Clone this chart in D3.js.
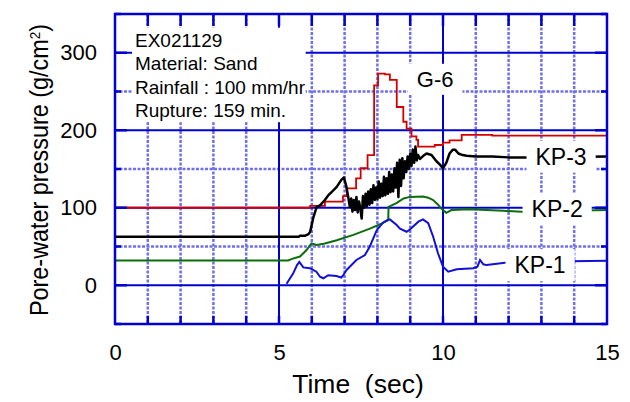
<!DOCTYPE html>
<html>
<head>
<meta charset="utf-8">
<script src="https://cdn.jsdelivr.net/npm/d3@7"></script>
<style>
  body { margin: 0; background: #fff; }
  text { font-family: "Liberation Sans", Arial, sans-serif; fill: #000; }
</style>
</head>
<body>
<div id="chart"></div>
<script>
// tick labels
var xTicks = [0, 5, 10, 15];
var yTicks = [0, 100, 200, 300];

// G-6 (red)
var g6T = [0, 5.95, 6.4, 6.95, 7.07, 7.35, 7.49, 7.7, 7.9, 8.02, 8.23, 8.38, 8.59, 8.79, 8.89, 9.04, 9.19, 9.24, 9.75, 10.0, 10.2, 10.57, 11.5, 15];
var g6V = [100, 102.5, 108, 115, 125, 138, 151, 168, 258, 273, 272, 265, 230, 211, 202, 192, 187.5, 179, 181, 184, 187, 194, 193, 192];

// KP-3 (black)
var kp3T = [0, 5.6, 5.64, 5.8, 5.9, 5.95, 6.05, 6.15, 6.25, 6.4, 6.5, 6.6, 6.76, 6.9, 6.98, 7.05, 7.11,
  7.16, 7.20, 7.24, 7.28, 7.32, 7.36, 7.40, 7.44, 7.48, 7.52, 7.56, 7.60, 7.64, 7.68, 7.72, 7.76, 7.80, 7.84,
  7.88, 7.92, 7.96, 8.00, 8.04, 8.08, 8.12, 8.16, 8.20, 8.24, 8.28, 8.32, 8.36, 8.40, 8.44, 8.48, 8.52, 8.56,
  8.60, 8.64, 8.68, 8.72, 8.76, 8.80, 8.84, 8.88, 8.92, 8.96, 9.00, 9.04, 9.08, 9.12, 9.16, 9.20, 9.24, 9.30,
  9.4, 9.5, 9.65, 9.8, 9.9, 10.0, 10.1, 10.2, 10.3, 10.37, 10.47, 10.6, 10.72, 11.0, 11.5, 12.0, 12.5, 15];
var kp3V = [62.5, 62.5, 64, 64, 66, 69, 88, 101, 103, 110, 116, 120, 127, 136, 139, 128, 114,
  101, 112, 95, 110, 97, 114, 94, 108, 99, 86, 115, 100, 118, 102, 121, 104, 124, 106,
  129, 110, 126, 111, 134, 113, 131, 115, 140, 116, 138, 118, 146, 120, 143, 121, 151, 126,
  158, 114, 162, 128, 164, 138, 160, 146, 166, 150, 170, 154, 175, 158, 179, 161, 168, 163,
  167, 170, 168, 160, 156, 151, 158, 170, 175, 175, 170, 168, 167, 166, 166, 165, 165, 166];

// KP-2 (green)
var kp2T = [0, 5.28, 5.4, 5.64, 5.84, 5.99, 6.15, 6.4, 6.76, 7.27, 7.77, 8.1, 8.33, 8.34, 8.58, 8.8, 8.99, 9.39, 9.55, 9.7, 9.85, 9.95, 10.1, 10.26, 10.82, 11.84, 12.4, 15];
var kp2V = [32, 32, 34, 37, 45.5, 54, 52, 54, 58, 65, 73, 79, 84, 101, 106, 112, 114, 114.5, 113, 110, 104, 99, 93.5, 97, 98, 96, 95, 97];

// KP-1 (blue)
var kp1T = [5.23, 5.43, 5.55, 5.62, 5.74, 5.94, 6.14, 6.25, 6.35, 6.5, 6.75, 6.9, 6.96, 7.06, 7.36, 7.62, 7.77, 7.98, 8.18, 8.3, 8.38, 8.58, 8.69, 8.89, 8.99, 9.25, 9.39, 9.55, 9.7, 9.85, 10.0, 10.16, 10.42, 10.92, 11.05, 11.13, 11.23, 11.33, 11.89, 12.2, 15];
var kp1V = [2, 15, 26, 30, 23, 22, 17.5, 11, 9, 13, 12, 10, 13, 19.7, 32.6, 39, 50, 71, 81, 84, 85, 78, 73, 69, 72, 82, 85, 80, 62.6, 41, 24, 17.5, 20.5, 22, 24, 32.6, 27, 26, 29, 30, 31.5];

// curve labels: name, time and value of the label centre
var labelNames = ["G-6", "KP-3", "KP-2", "KP-1"];
var labelT = [9.76, 13.6, 13.48, 12.96];
var labelV = [266, 166, 98, 26];

var notes = ["EX021129", "Material: Sand", "Rainfall : 100 mm/hr", "Rupture: 159 min."];

var margin = {top: 14, right: 23, bottom: 78, left: 115},
    width = 630 - margin.left - margin.right,
    height = 402 - margin.top - margin.bottom;

var blue = "#0000d0";

var svg = d3.select("#chart").append("svg")
    .attr("width", 630)
    .attr("height", 402);

var g = svg.append("g")
    .attr("transform", "translate(" + margin.left + "," + margin.top + ")");

var x = d3.scaleLinear().domain([0, 15]).range([0, width]);
var y = d3.scaleLinear().domain([-50, 350]).range([height, 0]);

// grid: dashed every second / every 50, solid at labelled ticks
var xMinor = d3.range(1, 15).filter(function(d) { return d % 5 != 0; });
var yMinor = [50, 150, 250];

g.append("g").selectAll("line")
    .data(xMinor)
  .enter().append("line")
    .attr("x1", function(d) { return x(d); })
    .attr("x2", function(d) { return x(d); })
    .attr("y1", 0).attr("y2", height)
    .attr("stroke", "#7070ec").attr("stroke-width", 2.5)
    .attr("stroke-dasharray", "3,1.5");

g.append("g").selectAll("line")
    .data(yMinor)
  .enter().append("line")
    .attr("y1", function(d) { return y(d); })
    .attr("y2", function(d) { return y(d); })
    .attr("x1", 0).attr("x2", width)
    .attr("stroke", "#7070ec").attr("stroke-width", 2.5)
    .attr("stroke-dasharray", "3,1.5");

g.append("g").selectAll("line")
    .data([5, 10])
  .enter().append("line")
    .attr("x1", function(d) { return x(d); })
    .attr("x2", function(d) { return x(d); })
    .attr("y1", 0).attr("y2", height)
    .attr("stroke", blue).attr("stroke-width", 2);

g.append("g").selectAll("line")
    .data(yTicks)
  .enter().append("line")
    .attr("y1", function(d) { return y(d); })
    .attr("y2", function(d) { return y(d); })
    .attr("x1", 0).attr("x2", width)
    .attr("stroke", blue).attr("stroke-width", 2);

// data lines
function series(ts, vs) {
  return ts.map(function(t, i) { return {t: t, v: vs[i]}; });
}

var line = d3.line()
    .x(function(d) { return x(d.t); })
    .y(function(d) { return y(d.v); });

var stepLine = d3.line()
    .curve(d3.curveStepAfter)
    .x(function(d) { return x(d.t); })
    .y(function(d) { return y(d.v); });

g.append("path").datum(series(kp2T, kp2V))
    .attr("fill", "none").attr("stroke", "#0b6e0b").attr("stroke-width", 2)
    .attr("d", line);

g.append("path").datum(series(kp1T, kp1V))
    .attr("fill", "none").attr("stroke", "#1010d8").attr("stroke-width", 2)
    .attr("d", line);

g.append("path").datum(series(g6T, g6V))
    .attr("fill", "none").attr("stroke", "#d40000").attr("stroke-width", 1.8)
    .attr("d", stepLine);

g.append("path").datum(series(kp3T, kp3V))
    .attr("fill", "none").attr("stroke", "#000").attr("stroke-width", 2.5)
    .attr("stroke-linejoin", "round")
    .attr("d", line);

// curve labels on white boxes
labelNames.forEach(function(name, i) {
  var lg = g.append("g");
  var txt = lg.append("text")
      .attr("x", x(labelT[i]))
      .attr("y", y(labelV[i]))
      .attr("dy", "0.35em")
      .attr("text-anchor", "middle")
      .style("font-size", name == "G-6" ? "22px" : "23px")
      .text(name);
  var bb = txt.node().getBBox();
  lg.insert("rect", "text")
      .attr("x", bb.x - 9).attr("y", bb.y - 3)
      .attr("width", bb.width + 18).attr("height", bb.height + 6)
      .attr("fill", "#fff");
});

// experiment notes
var ng = g.append("g");
var nt = ng.append("text")
    .attr("x", 20)
    .attr("y", 32.7)
    .style("font-size", "19px");
nt.selectAll("tspan")
    .data(notes)
  .enter().append("tspan")
    .attr("x", 20)
    .attr("dy", function(d, i) { return i == 0 ? 0 : 23.5; })
    .text(function(d) { return d; });
var nb = nt.node().getBBox();
ng.insert("rect", "text")
    .attr("x", nb.x - 3).attr("y", nb.y - 2)
    .attr("width", nb.width + 3).attr("height", nb.height + 3)
    .attr("fill", "#fff");

// frame ticks
var ticks = g.append("g").attr("stroke", blue).attr("stroke-width", 2.5);
d3.range(1, 15).forEach(function(d) {
  ticks.append("line").attr("x1", x(d)).attr("x2", x(d)).attr("y1", height).attr("y2", height - 8);
  ticks.append("line").attr("x1", x(d)).attr("x2", x(d)).attr("y1", 0).attr("y2", 12);
});
d3.range(-50, 351, 50).forEach(function(d) {
  var len = d % 100 == 0 ? 12 : 6;
  ticks.append("line").attr("y1", y(d)).attr("y2", y(d)).attr("x1", 0).attr("x2", len);
  ticks.append("line").attr("y1", y(d)).attr("y2", y(d)).attr("x1", width).attr("x2", width - len);
});

g.append("rect")
    .attr("width", width).attr("height", height)
    .attr("fill", "none").attr("stroke", blue).attr("stroke-width", 2.5);

// axes labels
var yAxis = g.append("g")
    .attr("transform", "translate(-18,0)")
    .call(d3.axisLeft(y).tickValues(yTicks).tickSize(0).tickFormat(d3.format("d")));
yAxis.select(".domain").remove();
yAxis.selectAll("text").attr("x", 0).style("font-size", "22px").attr("font-family", null);

var xAxis = g.append("g")
    .attr("transform", "translate(0," + (height + 18) + ")")
    .call(d3.axisBottom(x).tickValues(xTicks).tickSize(0).tickFormat(d3.format("d")));
xAxis.select(".domain").remove();
xAxis.selectAll("text").attr("y", 0).attr("dy", "0.8em").style("font-size", "22px").attr("font-family", null);

g.append("text")
    .attr("x", 243)
    .attr("y", height + 69)
    .attr("text-anchor", "middle")
    .style("font-size", "26.5px")
    .style("white-space", "pre")
    .text("Time  (sec)");

var yt = g.append("text")
    .attr("transform", "translate(" + (48 - margin.left) + "," + 156 + ") rotate(-90) scale(0.9,1)")
    .attr("text-anchor", "middle")
    .style("font-size", "26px");
yt.append("tspan").text("Pore-water pressure (g/cm");
yt.append("tspan").attr("baseline-shift", "super").style("font-size", "15px").text("2");
yt.append("tspan").text(")");
</script>
</body>
</html>
